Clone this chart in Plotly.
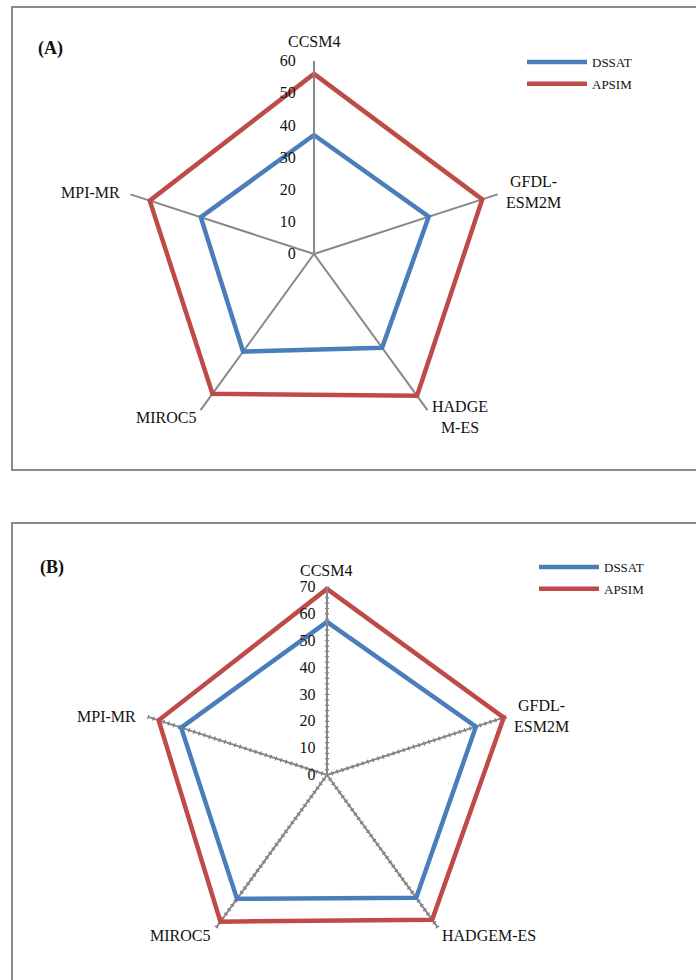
import numpy as np
import plotly.graph_objects as go

# Climate models (spokes of the radar charts)
models_a = ["CCSM4", "GFDL-ESM2M", "HADGEM-ES", "MIROC5", "MPI-MR"]
models_b = ["CCSM4", "GFDL-ESM2M", "HADGEM-ES", "MIROC5", "MPI-MR"]

# Panel (A) values
dssat_a = [37, 37.5, 36, 37.5, 37]
apsim_a = [56, 55, 54.5, 53.7, 53.7]

# Panel (B) values
dssat_b = [57, 58.3, 56.5, 57, 57.1]
apsim_b = [69.3, 69.2, 66.6, 67.5, 65.9]

# Radial tick labels
ticks_a = [0, 10, 20, 30, 40, 50, 60]
ticks_b = [0, 10, 20, 30, 40, 50, 60, 70]

BLUE = "#4A7EBB"
RED = "#BE4B48"
GRID = "#888888"
FONT = "Liberation Serif"

W, H = 696, 980


def closed(vals):
    return list(vals) + [vals[0]]


fig = go.Figure()

# Panel A series
fig.add_trace(go.Scatterpolar(r=closed(dssat_a), theta=closed(models_a), mode="lines",
                              line=dict(color=BLUE, width=4.5), name="DSSAT",
                              subplot="polar", legend="legend", legendgroup="a1"))
fig.add_trace(go.Scatterpolar(r=closed(apsim_a), theta=closed(models_a), mode="lines",
                              line=dict(color=RED, width=4.5), name="APSIM",
                              subplot="polar", legend="legend", legendgroup="a2"))

# Panel B minor tick marks along every spoke
minor_r = np.arange(2, 70.1, 2)
spoke_screen_angle = {"CCSM4": 90, "GFDL-ESM2M": 18, "HADGEM-ES": -54, "MIROC5": -126, "MPI-MR": 162}
for m in models_b:
    fig.add_trace(go.Scatterpolar(r=minor_r, theta=[m] * len(minor_r), mode="markers",
                                  marker=dict(symbol="line-ns", size=3, angle=-spoke_screen_angle[m],
                                              line=dict(color="#7A7A7A", width=1.2)),
                                  subplot="polar2", showlegend=False, hoverinfo="skip"))

# Panel B series
fig.add_trace(go.Scatterpolar(r=closed(dssat_b), theta=closed(models_b), mode="lines",
                              line=dict(color=BLUE, width=4.5), name="DSSAT",
                              subplot="polar2", legend="legend2", legendgroup="b1"))
fig.add_trace(go.Scatterpolar(r=closed(apsim_b), theta=closed(models_b), mode="lines",
                              line=dict(color=RED, width=4.5), name="APSIM",
                              subplot="polar2", legend="legend2", legendgroup="b2"))


def px_x(x):
    return x / W


def px_y(y):
    return 1 - y / H


def polar_layout(cx, cy, rad, rmax, tickvals, spoke_w, label_gap):
    return dict(
        domain=dict(x=[px_x(cx - rad), px_x(cx + rad)], y=[px_y(cy + rad), px_y(cy - rad)]),
        bgcolor="rgba(0,0,0,0)",
        radialaxis=dict(range=[0, rmax], tickvals=tickvals, angle=90, tickangle=90,
                        showline=True, linecolor=GRID, linewidth=spoke_w,
                        showgrid=False, ticks="outside", ticklen=label_gap,
                        tickcolor="rgba(0,0,0,0)", side="counterclockwise",
                        tickfont=dict(family=FONT, size=16, color="#111111")),
        angularaxis=dict(categoryorder="array", categoryarray=models_a, rotation=90,
                         direction="clockwise", showline=False, showgrid=True,
                         gridcolor=GRID, gridwidth=spoke_w, ticks="", showticklabels=False),
    )


legend_common = dict(font=dict(family=FONT, size=13, color="#111111"), bgcolor="rgba(0,0,0,0)",
                     itemwidth=60, tracegroupgap=2, xanchor="left", yanchor="top")

fig.update_layout(
    width=W, height=H,
    margin=dict(l=0, r=0, t=0, b=0),
    paper_bgcolor="white",
    plot_bgcolor="white",
    showlegend=True,
    polar=polar_layout(314, 254, 193, 60, ticks_a, 1.5, 12),
    polar2=polar_layout(327, 775, 188, 70, ticks_b, 2, 5),
    legend=dict(x=px_x(522), y=px_y(47), **legend_common),
    legend2=dict(x=px_x(534), y=px_y(552), **legend_common),
    shapes=[
        dict(type="rect", xref="paper", yref="paper", x0=px_x(12), x1=1.02,
             y0=px_y(470), y1=px_y(7), line=dict(color="#8A8A8A", width=2)),
        dict(type="rect", xref="paper", yref="paper", x0=px_x(12), x1=1.02,
             y0=-0.02, y1=px_y(523), line=dict(color="#8A8A8A", width=2)),
    ],
)

# Text labels: panel tags and spoke names
labels = [
    ("<b>(A)</b>", 50, 48, "center", 18),
    ("CCSM4", 314, 42, "center", 16),
    ("GFDL-<br>ESM2M", 533, 192, "center", 16),
    ("HADGE<br>M-ES", 460, 417, "center", 16),
    ("MIROC5", 166, 417, "center", 16),
    ("MPI-MR", 122, 192, "right", 16),
    ("<b>(B)</b>", 52, 567, "center", 18),
    ("CCSM4", 326, 570, "center", 16),
    ("GFDL-<br>ESM2M", 541, 716, "center", 16),
    ("HADGEM-ES", 489, 935, "center", 16),
    ("MIROC5", 180, 935, "center", 16),
    ("MPI-MR", 138, 716, "right", 16),
]
fig.update_layout(annotations=[
    dict(text=t, x=px_x(x), y=px_y(y), xref="paper", yref="paper", xanchor=a, yanchor="middle",
         showarrow=False, align="center", font=dict(family=FONT, size=s, color="#111111"))
    for t, x, y, a, s in labels
])

fig.write_html("out.html")
